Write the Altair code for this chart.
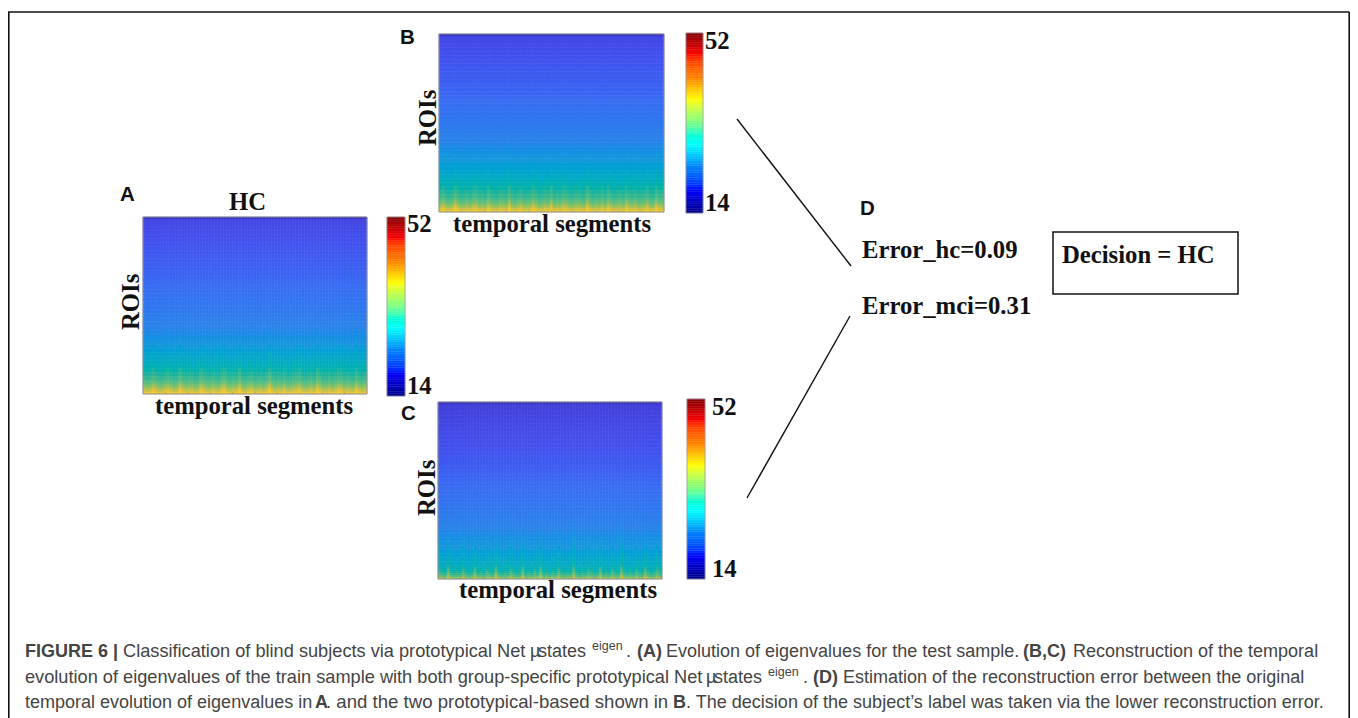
import altair as alt
import pandas as pd

# ---------- data ----------
roi_edges = [0] + list(range(1, 84, 2)) + [84, 85, 86, 87, 88, 89, 90]
row_values_a = [14.5,16.3,16.6,16.9,17.1,17.3,17.5,17.7,17.9,18.1,18.3,18.5,18.7,18.9,19.1,19.3,19.6,19.9,20.2,20.5,20.8,21.1,21.4,21.7,22,22.4,22.8,23.2,23.6,24,24.5,25,25.6,26.2,26.8,27.4,28,28.7,29.4,30.2,31,31.9,32.8,33.6,34.5,35.4,36.4,37.6,39]
row_values_b = [14.5,16.4,16.7,17,17.2,17.4,17.6,17.8,18,18.2,18.4,18.6,18.8,19,19.2,19.5,19.8,20.1,20.4,20.7,21,21.3,21.6,22,22.4,22.8,23.2,23.6,24,24.5,25,25.5,26,26.5,27,27.6,28.2,28.9,29.6,30.3,31,31.8,32.6,33.4,34.2,35.1,36.1,37.4,38.8]
row_values_c = [14.5,15.4,15.6,15.8,16,16.2,16.4,16.6,16.8,17,17.2,17.4,17.6,17.8,18,18.2,18.4,18.6,18.9,19.2,19.5,19.8,20.1,20.4,20.7,21,21.3,21.6,22,22.4,22.8,23.2,23.6,24,24.5,25,25.5,26,26.6,27.2,27.8,28.3,28.8,29.4,30,30.7,31.6,33,35.5]
streak_weight = [0,.04,.04,.04,.04,.04,.04,.04,.04,.04,.04,.04,.04,.04,.04,.04,.04,.04,.04,.04,.04,.05,.05,.06,.06,.07,.07,.08,.09,.1,.11,.13,.15,.18,.21,.25,.29,.34,.4,.46,.53,.6,.68,.76,.84,.92,1,1,.8]
streak_a = [.2,-.3,.1,1.4,.5,-.4,-.6,.3,.9,.1,-.5,-.2,2.0,.4,-.3,.1,.2,-.7,-.4,1.6,.6,-.2,-.5,.3,-.1,-.6,1.1,1.5,-.3,-.5,.2,.0,1.9,-.4,-.6,.3,.7,-.5,-.2,.1,-.6,.4,2.2,.3,-.4,.1,-.2,.8,-.7,-.3,.2,.5,1.3,-.2,-.6,-.1,.3,-.5,1.8,.6,-.5,-.3,.4,-.6,.1,1.2,.9,-.5,.2,-.3,-.6,1.7,.1,-.4,.3]
streak_b = [.3,1.4,-.2,-.5,.1,1.9,.4,-.6,-.2,.3,-.5,.8,1.2,-.3,.1,-.6,1.7,.2,-.4,-.5,.6,.2,-.3,2.1,-.1,-.6,.3,.9,-.5,-.2,.1,1.5,.4,-.6,-.3,.5,-.1,1.8,-.5,.2,-.4,1.1,.7,-.3,-.6,.1,.4,-.2,-.5,2.0,.3,-.6,.1,-.3,.9,-.4,1.4,.2,-.5,-.1,.3,-.6,1.6,.3,-.2,.6,-.5,-.3,.1,1.2,-.4,-.6,1.9,.2,.4]
streak_c = [1.0,.2,-.5,2.9,.4,-.4,.2,-.2,1.6,.1,-.6,-.1,2.4,-.3,.1,-.5,1.2,.2,-.4,3.0,.3,-.6,.3,-.1,1.4,.2,-.5,.0,2.6,-.3,.2,-.5,1.1,.1,2.8,-.4,.1,-.6,.4,-.2,1.7,.2,-.5,.1,-.3,2.7,.1,-.6,.3,-.2,1.3,.3,-.5,.0,2.5,-.3,.2,-.4,1.5,.1,-.5,2.9,.3,-.2,.2,-.6,1.2,.2,-.4,2.2,.4,-.5,.3,1.6,.3]
colorbar_levels = [14 + i * 0.5 for i in range(76)]
roi_ticks = [10,20,30,40,50,60,70,80]
segment_ticks = [7.5,15,22.5,30,37.5,45,52.5,60,67.5]

text_temporal = "temporal segments"
text_rois = "ROIs"
text_hc = "HC"
text_max = "52"
text_min = "14"
text_err_hc = "Error_hc=0.09"
text_err_mci = "Error_mci=0.31"
text_decision = "Decision = HC"

# ---------- colour scales ----------
heat_domain = [14, 15.5, 17.5, 20, 23.5, 26, 28, 31, 34.5, 37, 40]
heat_range = ["#352a9e", "#4240dc", "#4350ee", "#3a6cf2", "#2e82ea", "#1c98dc", "#0ca8c8", "#22b49c", "#70bf70", "#c4bf4c", "#fbcc28"]
jet_domain = [14, 18.75, 23.5, 28.25, 33, 37.75, 42.5, 47.25, 52]
jet_range = ["#00008f", "#0000ff", "#0080ff", "#00ffff", "#80ff80", "#ffff00", "#ff8000", "#ff0000", "#800000"]

ONE = alt.Data(values=[{"k": 0}])
W, H = 1342, 710
SERIF = "Liberation Serif"
SANS = "Liberation Sans"
CAPTION = "#444444"


def px(x):
    return x - 8


def heatmap(rows, streak, x0, x1, y0, y1):
    cells = []
    for c, dev in enumerate(streak):
        for r, base in enumerate(rows):
            cells.append({"c": c, "c2": c + 1, "r": roi_edges[r], "r2": roi_edges[r + 1],
                          "v": round(base + dev * streak_weight[r], 2)})
    n = len(streak)
    xs = alt.Scale(domain=[0, n], range=[px(x0), px(x1)])
    ys = alt.Scale(domain=[0, 90], range=[px(y0), px(y1)])
    cs = alt.Scale(domain=heat_domain, range=heat_range, clamp=True)
    out = [
        alt.Chart(pd.DataFrame(cells)).mark_rect(strokeWidth=0.5).encode(
            x=alt.X("c:Q", scale=xs, axis=None), x2="c2:Q",
            y=alt.Y("r:Q", scale=ys, axis=None), y2="r2:Q",
            color=alt.Color("v:Q", scale=cs, legend=None),
            stroke=alt.Stroke("v:Q", scale=cs, legend=None),
        )
    ]
    tk = "#7d8aa0"
    out.append(alt.Chart(pd.DataFrame({"t": roi_ticks})).mark_rule(color=tk, strokeWidth=0.7, opacity=0.6).encode(
        y=alt.Y("t:Q", scale=ys, axis=None), x=alt.value(px(x0)), x2=alt.value(px(x0) + 2)))
    out.append(alt.Chart(pd.DataFrame({"t": roi_ticks})).mark_rule(color=tk, strokeWidth=0.7, opacity=0.6).encode(
        y=alt.Y("t:Q", scale=ys, axis=None), x=alt.value(px(x1) - 2), x2=alt.value(px(x1))))
    out.append(alt.Chart(pd.DataFrame({"t": segment_ticks})).mark_rule(color=tk, strokeWidth=0.7, opacity=0.6).encode(
        x=alt.X("t:Q", scale=xs, axis=None), y=alt.value(px(y1) - 2), y2=alt.value(px(y1))))
    out.append(alt.Chart(ONE).mark_rect(fill=None, stroke="#8f8f9a", strokeWidth=1).encode(
        x=alt.value(px(x0)), x2=alt.value(px(x1)), y=alt.value(px(y0)), y2=alt.value(px(y1))))
    return out


def colorbar(x0, x1, y_top, y_bot):
    ys = alt.Scale(domain=[14, 52], range=[px(y_bot), px(y_top)])
    cs = alt.Scale(domain=jet_domain, range=jet_range)
    df = pd.DataFrame({"v": colorbar_levels, "v2": [v + 0.5 for v in colorbar_levels]})
    return [
        alt.Chart(df).mark_rect(strokeWidth=0.4).encode(
            x=alt.value(px(x0)), x2=alt.value(px(x1)),
            y=alt.Y("v:Q", scale=ys, axis=None), y2="v2:Q",
            color=alt.Color("v:Q", scale=cs, legend=None),
            stroke=alt.Stroke("v:Q", scale=cs, legend=None),
        ),
        alt.Chart(ONE).mark_rect(fill=None, stroke="#9a9aa5", strokeWidth=0.8).encode(
            x=alt.value(px(x0)), x2=alt.value(px(x1)), y=alt.value(px(y_top)), y2=alt.value(px(y_bot))),
    ]


def txt(s, x, y, size, font=SERIF, weight="bold", color="#111111", angle=None, align="left"):
    kw = {"font": font, "fontSize": size, "fontWeight": weight, "color": color, "align": align, "baseline": "alphabetic"}
    if angle is not None:
        kw["angle"] = angle
    return alt.Chart(ONE).mark_text(**kw).encode(x=alt.value(px(x)), y=alt.value(px(y)), text=alt.value(s))


def line(x0, y0, x1, y1, w=1.4):
    return alt.Chart(ONE).mark_rule(color="#111111", strokeWidth=w).encode(
        x=alt.value(px(x0)), y=alt.value(px(y0)), x2=alt.value(px(x1)), y2=alt.value(px(y1)))


layers = []
layers += heatmap(row_values_a, streak_a, 143, 367, 217, 394)
layers += heatmap(row_values_b, streak_b, 439, 664, 34, 212)
layers += heatmap(row_values_c, streak_c, 438, 662, 402, 579)
layers += colorbar(387, 405, 217, 396)
layers += colorbar(686, 703, 33, 213)
layers += colorbar(687, 705, 399, 579)

FS = 24.7
LS = 20.5
layers += [
    txt("A", 120, 201, LS, SANS), txt("B", 400, 44, LS, SANS), txt("C", 401, 420, LS, SANS), txt("D", 860, 215, LS, SANS),
    txt(text_hc, 229, 210, FS),
    txt(text_rois, 139, 330, FS, angle=270), txt(text_rois, 436, 146, FS, angle=270), txt(text_rois, 435, 516, FS, angle=270),
    txt(text_temporal, 155, 414, FS), txt(text_temporal, 453, 232, FS), txt(text_temporal, 459, 598, FS),
    txt(text_max, 407, 232, FS), txt(text_min, 407, 394, FS),
    txt(text_max, 705, 49, FS), txt(text_min, 705, 211, FS),
    txt(text_max, 712, 415, FS), txt(text_min, 712, 577, FS),
    txt(text_err_hc, 862, 258, FS), txt(text_err_mci, 862, 314, FS), txt(text_decision, 1062, 263, FS),
    line(737, 119, 851, 266), line(850, 316, 747, 498),
    alt.Chart(ONE).mark_rect(fill=None, stroke="#111111", strokeWidth=1.5).encode(
        x=alt.value(px(1053)), x2=alt.value(px(1238)), y=alt.value(px(232)), y2=alt.value(px(294))),
    # outer figure frame, open at the bottom
    line(8.8, 12, 8.8, 718, 1.6), line(8, 12, 1349.2, 12, 1.6), line(1349.2, 12, 1349.2, 718, 1.6),
]

CS = 18
b1, b2, b3 = 657, 683, 708
cap = lambda s, x, y, w="normal", size=CS: txt(s, x, y, size, SANS, w, CAPTION)
layers += [
    cap("FIGURE 6 |", 25, b1, "bold"),
    cap("Classification of blind subjects via prototypical Net", 123, b1, size=18.2),
    cap("\u00b5", 530, b1), cap("states", 538, b1), cap("eigen", 592, b1 - 7, size=12.5), cap(".", 626, b1),
    cap("(A)", 637, b1, "bold"),
    cap("Evolution of eigenvalues for the test sample.", 666, b1),
    cap("(B,C)", 1023, b1, "bold"),
    cap("Reconstruction of the temporal", 1073, b1),
    cap("evolution of eigenvalues of the train sample with both group-specific prototypical Net", 25, b2, size=18.2),
    cap("\u00b5", 706, b2), cap("states", 714, b2), cap("eigen", 768, b2 - 7, size=12.5), cap(".", 803, b2),
    cap("(D)", 813, b2, "bold"),
    cap("Estimation of the reconstruction error between the original", 843, b2),
    cap("temporal evolution of eigenvalues in", 25, b3),
    cap("A", 315, b3, "bold"),
    cap(". and the two prototypical-based shown in", 326, b3, size=18.6),
    cap("B", 673, b3, "bold"),
    cap(". The decision of the subject\u2019s label was taken via the lower reconstruction error.", 686, b3, size=18.05),
]

chart = alt.layer(*layers).resolve_scale(
    x="independent", y="independent", color="independent", stroke="independent"
).properties(
    width=W, height=H, padding=0, autosize=alt.AutoSizeParams(type="none")
).configure_view(stroke=None)

chart.save("out.html", embed_options={"renderer": "svg", "actions": False})
